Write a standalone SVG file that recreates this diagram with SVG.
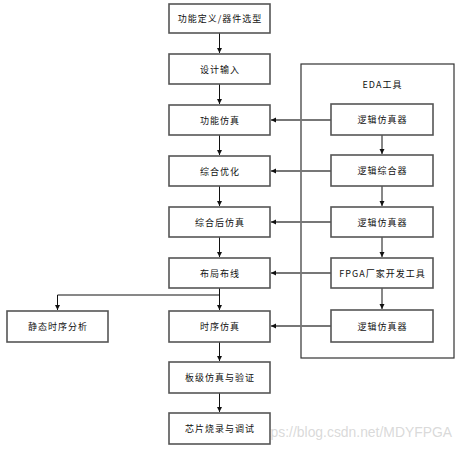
<svg xmlns="http://www.w3.org/2000/svg" width="462" height="449" viewBox="0 0 462 449">
<style>
.box{fill:#fff;stroke:#555;stroke-width:1.6}
.t{font-family:"Noto Sans CJK SC","Liberation Sans",sans-serif;font-size:9px;letter-spacing:1px;fill:#111;text-anchor:middle;dominant-baseline:central}
.v{stroke:#111;stroke-width:1;fill:none}
.h{stroke:#777;stroke-width:2;fill:none}
</style>
<defs>
<marker id="a" markerWidth="6" markerHeight="6" refX="5" refY="3" orient="auto" markerUnits="userSpaceOnUse"><path d="M0,0.5 L5,3 L0,5.5 z" fill="#111"/></marker>
</defs>
<rect x="0" y="0" width="462" height="449" fill="#fff"/>
<text x="452" y="437" font-family="Liberation Sans, sans-serif" font-size="13.9" fill="#d0d0d0" fill-opacity="0.8" text-anchor="end">https://blog.csdn.net/MDYFPGA</text>
<g id="eda"><rect x="301" y="64" width="153" height="294" fill="none" stroke="#333" stroke-width="1.2"/><text class="t" x="382.5" y="84">EDA工具</text></g>
<g id="connectors">
<path class="v" d="M219.5,33 V53" marker-end="url(#a)"/>
<path class="v" d="M219.5,84 V104" marker-end="url(#a)"/>
<path class="v" d="M219.5,135 V155" marker-end="url(#a)"/>
<path class="v" d="M219.5,186 V206" marker-end="url(#a)"/>
<path class="v" d="M219.5,237 V257" marker-end="url(#a)"/>
<path class="v" d="M219.5,288 V310" marker-end="url(#a)"/>
<path class="v" d="M219.5,295 H57.5 V310" marker-end="url(#a)"/>
<path class="v" d="M219.5,342 V361" marker-end="url(#a)"/>
<path class="v" d="M219.5,393 V412" marker-end="url(#a)"/>
<path class="v" d="M382,135 V154" marker-end="url(#a)"/>
<path class="v" d="M382,186 V206" marker-end="url(#a)"/>
<path class="v" d="M382,237 V257" marker-end="url(#a)"/>
<path class="v" d="M382,288 V309" marker-end="url(#a)"/>
<path class="h" d="M331,120 H271" marker-end="url(#a)"/>
<path class="h" d="M331,171 H271" marker-end="url(#a)"/>
<path class="h" d="M331,222 H271" marker-end="url(#a)"/>
<path class="h" d="M331,273 H271" marker-end="url(#a)"/>
<path class="h" d="M331,326 H271" marker-end="url(#a)"/>
</g>
<g id="n1"><rect class="box" x="169" y="4" width="101" height="29"/><text class="t" x="220" y="18.5">功能定义/器件选型</text></g>
<g id="n2"><rect class="box" x="169" y="54" width="101" height="30"/><text class="t" x="220" y="69">设计输入</text></g>
<g id="n3"><rect class="box" x="169" y="105" width="101" height="30"/><text class="t" x="220" y="120">功能仿真</text></g>
<g id="n4"><rect class="box" x="169" y="156" width="101" height="30"/><text class="t" x="220" y="171">综合优化</text></g>
<g id="n5"><rect class="box" x="169" y="207" width="101" height="30"/><text class="t" x="220" y="222">综合后仿真</text></g>
<g id="n6"><rect class="box" x="169" y="258" width="101" height="30"/><text class="t" x="220" y="273">布局布线</text></g>
<g id="n7"><rect class="box" x="169" y="311" width="101" height="31"/><text class="t" x="220" y="326.5">时序仿真</text></g>
<g id="n8"><rect class="box" x="7" y="311" width="101" height="31"/><text class="t" x="58" y="326.5">静态时序分析</text></g>
<g id="n9"><rect class="box" x="169" y="362" width="101" height="31"/><text class="t" x="220" y="377.5">板级仿真与验证</text></g>
<g id="n10"><rect class="box" x="169" y="413" width="101" height="31"/><text class="t" x="220" y="428.5">芯片烧录与调试</text></g>
<g id="r1"><rect class="box" x="331" y="104" width="102" height="31"/><text class="t" x="382.5" y="119.5">逻辑仿真器</text></g>
<g id="r2"><rect class="box" x="331" y="155" width="102" height="31"/><text class="t" x="382.5" y="170.5">逻辑综合器</text></g>
<g id="r3"><rect class="box" x="331" y="207" width="102" height="30"/><text class="t" x="382.5" y="222">逻辑仿真器</text></g>
<g id="r4"><rect class="box" x="331" y="258" width="102" height="30"/><text class="t" x="382.5" y="273">FPGA厂家开发工具</text></g>
<g id="r5"><rect class="box" x="331" y="310" width="102" height="32"/><text class="t" x="382.5" y="326">逻辑仿真器</text></g>
</svg>
